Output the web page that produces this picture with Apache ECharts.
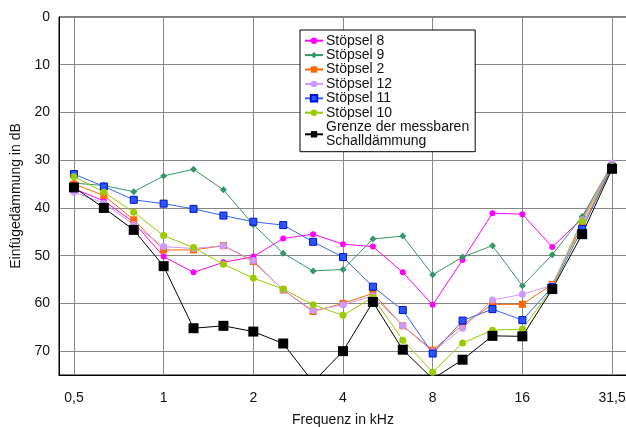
<!DOCTYPE html>
<html>
<head>
<meta charset="utf-8">
<script src="https://cdn.jsdelivr.net/npm/echarts@6/dist/echarts.min.js"></script>
<style>
html,body{margin:0;padding:0;background:#fff;}
#chart{width:626px;height:427px;}
</style>
</head>
<body>
<div id="chart"></div>
<script>
var categories = ['0,5','0,63','0,8','1','1,25','1,6','2','2,5','3,15','4','5','6,3','8','10','12,5','16','20','25','31,5'];
var labelledTicks = ['0,5','1','2','4','8','16','31,5'];

var stoepsel8  = [36.0, 38.5, 43.0, 50.2, 53.5, 51.4, 50.2, 46.4, 45.5, 47.6, 48.1, 53.5, 60.3, 50.9, 41.1, 41.3, 48.2, 42.2, 31.0];
var stoepsel9  = [34.8, 35.3, 36.6, 33.3, 31.9, 36.2, 43.5, 49.5, 53.2, 52.9, 46.5, 45.9, 54.0, 50.3, 47.9, 56.3, 49.8, 41.8, 30.8];
var stoepsel2  = [35.0, 37.4, 42.5, 48.8, 48.8, 47.9, 51.2, 57.2, 61.7, 60.0, 57.9, 64.7, 69.8, 64.5, 60.2, 60.2, 56.0, 43.7, 31.3];
var stoepsel12 = [36.7, 39.0, 43.5, 48.1, 48.5, 47.9, 51.0, 57.2, 61.5, 60.3, 58.4, 64.7, 70.1, 65.2, 59.3, 58.1, 56.2, 42.5, 30.6];
var stoepsel11 = [32.9, 35.5, 38.3, 39.1, 40.2, 41.6, 42.9, 43.6, 47.1, 50.3, 56.5, 61.4, 70.5, 63.6, 61.2, 63.5, 56.6, 44.4, 31.4];
var stoepsel10 = [33.4, 36.7, 40.9, 45.8, 48.3, 51.8, 54.7, 57.0, 60.3, 62.5, 58.7, 67.7, 74.4, 68.3, 65.6, 65.4, 56.8, 42.8, 31.2];
var grenze     = [35.7, 40.0, 44.6, 52.2, 65.2, 64.7, 65.9, 68.4, 76.5, 70.0, 59.7, 69.7, 75.8, 71.8, 66.8, 66.9, 57.0, 45.5, 31.8];

var FONT = '"Liberation Sans", Arial, sans-serif';
var chart = echarts.init(document.getElementById('chart'), null, {renderer: 'canvas'});

function mk(name, data, color, symbol, size, extra) {
  var s = {
    name: name,
    type: 'line',
    data: data,
    symbol: symbol,
    symbolSize: size,
    showAllSymbol: true,
    lineStyle: {color: color, width: 1},
    itemStyle: {color: color},
    emphasis: {disabled: true},
    animation: false,
    clip: true
  };
  if (extra) { for (var k in extra) s[k] = extra[k]; }
  return s;
}

var option = {
  animation: false,
  textStyle: {fontFamily: FONT},
  grid: {left: 59, top: 17, right: -1, bottom: 52, outerBoundsMode: 'none', containLabel: false,
         show: true, borderColor: '#000', borderWidth: 1, backgroundColor: '#fff'},
  legend: {
    orient: 'vertical',
    left: 300,
    top: 30,
    padding: [3.5, 6, 3, 4],
    itemGap: 0,
    itemWidth: 18,
    itemHeight: 8,
    borderColor: '#000',
    borderWidth: 1,
    backgroundColor: '#fff',
    textStyle: {fontFamily: FONT, fontSize: 14, lineHeight: 14.4, color: '#111', padding: [0,0,0,-2]},
    data: ['Stöpsel 8','Stöpsel 9','Stöpsel 2','Stöpsel 12','Stöpsel 11','Stöpsel 10','Grenze der messbaren\nSchalldämmung']
  },
  xAxis: {
    type: 'category',
    data: categories,
    boundaryGap: true,
    name: 'Frequenz in kHz',
    nameLocation: 'middle',
    nameGap: 38,
    nameTextStyle: {fontFamily: FONT, fontSize: 14, color: '#111'},
    axisLine: {onZero: false, lineStyle: {color: '#000', width: 1}},
    axisTick: {show: false, alignWithLabel: true},
    axisLabel: {
      fontFamily: FONT, fontSize: 14, color: '#111', margin: 16,
      interval: function (i, v) { return labelledTicks.indexOf(v) >= 0; }
    },
    splitLine: {
      show: true,
      alignWithLabel: true,
      interval: function (i, v) { return labelledTicks.indexOf(v) >= 0; },
      lineStyle: {color: '#878787', width: 1}
    }
  },
  yAxis: {
    type: 'value',
    inverse: true,
    min: 0,
    max: 75,
    interval: 10,
    name: 'Einfügedämmung in dB',
    nameLocation: 'middle',
    nameGap: 33,
    nameTextStyle: {fontFamily: FONT, fontSize: 14, color: '#111'},
    axisLine: {show: true, lineStyle: {color: '#000', width: 1}},
    axisTick: {show: false},
    axisLabel: {fontFamily: FONT, fontSize: 14, color: '#111', margin: 9, showMaxLabel: false},
    splitLine: {show: true, lineStyle: {color: '#878787', width: 1}}
  },
  series: [
    mk('Stöpsel 8', stoepsel8, '#ff00ff', 'circle', 6),
    mk('Stöpsel 9', stoepsel9, '#339966', 'diamond', 7),
    mk('Stöpsel 2', stoepsel2, '#ff6600', 'rect', 7),
    mk('Stöpsel 12', stoepsel12, '#cc99ff', 'circle', 7),
    mk('Stöpsel 11', stoepsel11, '#3366ff', 'rect', 7, {itemStyle: {color: '#2a55ff', borderColor: '#0010d0', borderWidth: 1}}),
    mk('Stöpsel 10', stoepsel10, '#99cc00', 'circle', 7),
    mk('Grenze der messbaren\nSchalldämmung', grenze, '#000000', 'rect', 10)
  ]
};
chart.setOption(option);
</script>
</body>
</html>
